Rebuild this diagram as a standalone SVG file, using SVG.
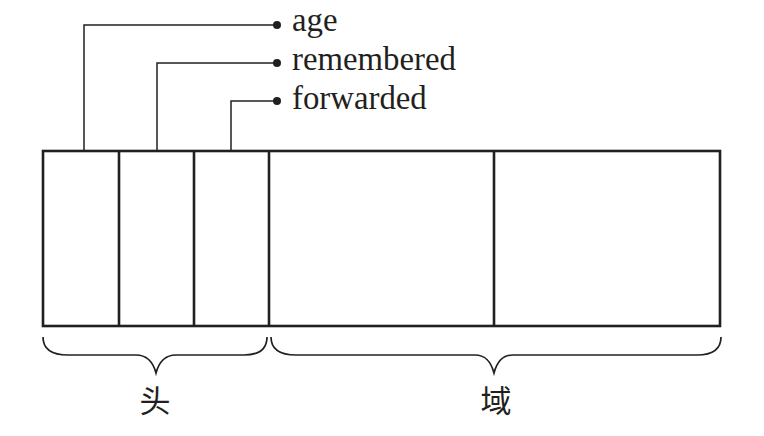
<svg xmlns="http://www.w3.org/2000/svg" width="764" height="436" viewBox="0 0 764 436">
<style>
.box{fill:none;stroke:#231f20;stroke-width:2.6}
.lead{fill:none;stroke:#231f20;stroke-width:1.5}
.brace{fill:none;stroke:#231f20;stroke-width:1.7}
.dot{fill:#231f20}
.lbl{font-family:"Liberation Serif","Times New Roman",serif;font-size:32.8px;fill:#231f20}
.cjk{font-family:"Liberation Serif","Noto Sans CJK SC",serif;font-size:31px;fill:#231f20;text-anchor:middle}
</style>
<rect width="764" height="436" fill="#fff"/>
<g id="record">
<rect class="box" x="43" y="151" width="677" height="175"/>
<line class="box" x1="119" y1="151" x2="119" y2="326"/>
<line class="box" x1="194" y1="151" x2="194" y2="326"/>
<line class="box" x1="269" y1="151" x2="269" y2="326"/>
<line class="box" x1="494" y1="151" x2="494" y2="326"/>
</g>
<g id="connectors">
<polyline class="lead" points="84,151 84,25 277,25"/>
<polyline class="lead" points="157,151 157,63 277,63"/>
<polyline class="lead" points="231,151 231,101 277,101"/>
<circle class="dot" cx="277" cy="25" r="4"/>
<circle class="dot" cx="277" cy="63" r="4"/>
<circle class="dot" cx="277" cy="101" r="4"/>
</g>
<g id="label-age"><text class="lbl" x="292" y="31">age</text></g>
<g id="label-remembered"><text class="lbl" x="292" y="70">remembered</text></g>
<g id="label-forwarded"><text class="lbl" x="292" y="109">forwarded</text></g>
<g id="brace-head">
<path class="brace" d="M43,337 C43,349 52,355 68,355 L136,355 C147,355 153,362 156,373 C159,362 165,355 176,355 L244,355 C260,355 267,349 267,337"/>
<text class="cjk" x="155" y="412">头</text>
</g>
<g id="brace-body">
<path class="brace" d="M271,337 C271,349 280,355 296,355 L475,355 C486,355 491,362 494,373 C497,362 502,355 513,355 L697,355 C713,355 721,349 721,337"/>
<text class="cjk" x="496" y="412">域</text>
</g>
</svg>
